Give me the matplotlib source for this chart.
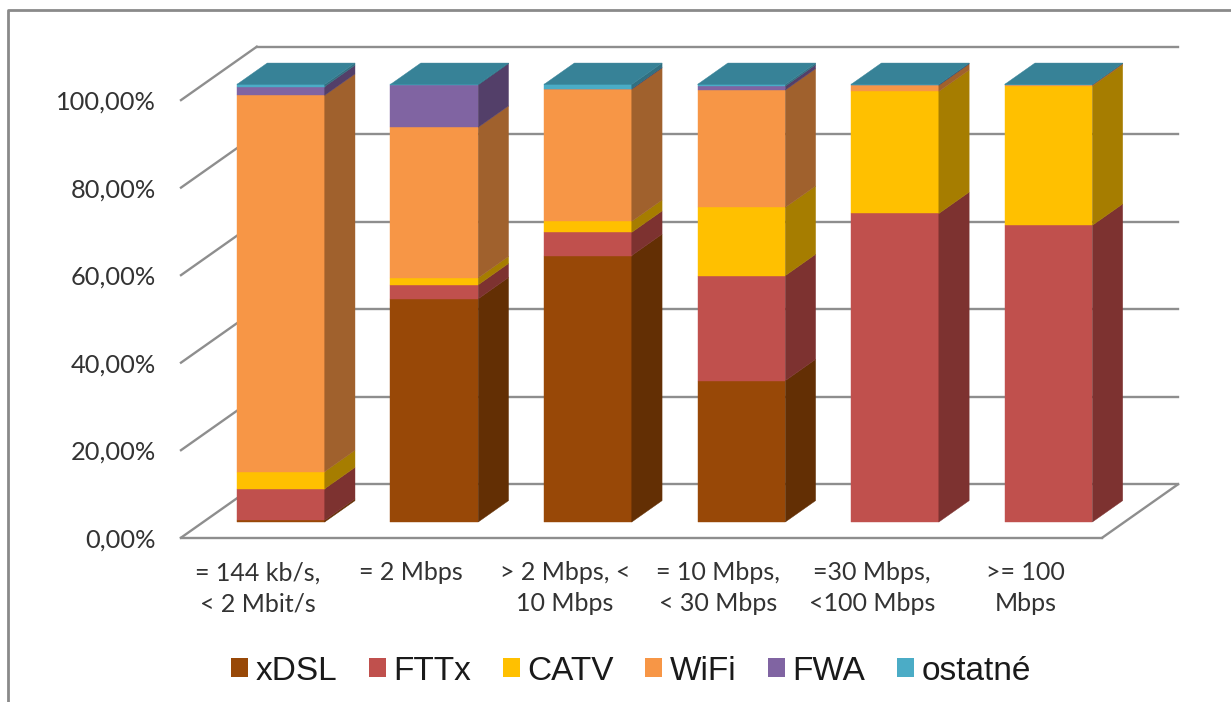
import matplotlib
matplotlib.use('Agg')
import matplotlib.pyplot as plt
from matplotlib.lines import Line2D
from matplotlib.patches import Polygon, Patch

# Data (podiel technologii v pasmach rychlosti, %)
categories = ['= 144 kb/s,\n< 2 Mbit/s', '= 2 Mbps', '> 2 Mbps, <\n10 Mbps',
              '= 10 Mbps,\n< 30 Mbps', '=30 Mbps,\n<100 Mbps', '>= 100\nMbps']
series = ['xDSL', 'FTTx', 'CATV', 'WiFi', 'FWA', 'ostatné']
xdsl = [0.4, 51.0, 60.9, 32.3, 0.0, 0.0]
fttx = [7.2, 3.2, 5.3, 24.0, 70.5, 67.8]
catv = [3.9, 1.6, 2.5, 15.6, 27.9, 31.8]
wifi = [86.0, 34.4, 30.2, 26.8, 1.4, 0.3]
fwa = [2.0, 9.7, 0.1, 0.9, 0.1, 0.0]
ostatne = [0.5, 0.1, 1.0, 0.4, 0.1, 0.1]
values = [xdsl, fttx, catv, wifi, fwa, ostatne]
yticks = [0, 20, 40, 60, 80, 100]
yticklabels = ['0,00%', '20,00%', '40,00%', '60,00%', '80,00%', '100,00%']

front_colors = ['#984807', '#C0504D', '#FFC000', '#F79646', '#8064A2', '#4BACC6']
side_colors = ['#632F04', '#7D3230', '#A67D00', '#A0612D', '#533F69', '#317081']
top_color = '#378297'
grid_color = '#8E8E8E'

W, H = 1231, 702
fig = plt.figure(figsize=(W / 100, H / 100), dpi=100)
ax = fig.add_axes([181 / W, 1 - 537.7 / H, (1178 - 181) / W, (537.7 - 46.7) / H])

# Sikma projekcia: hlbka posuva x aj y
n = len(categories)
depth_x = 76 / 154
depth_y = 53.4 / 4.376
bar_w = 88 / 154
d0, d1 = 0.294, 0.694

ax.set_xlim(0, n + depth_x)
ax.set_ylim(0, 100 + depth_y)
for s in ax.spines.values():
    s.set_visible(False)

# Mriezka na zadnej a bocnej stene
for v in yticks:
    ax.plot([depth_x, n + depth_x], [v + depth_y, v + depth_y], color=grid_color, lw=1.7, zorder=1, clip_on=False)
    ax.plot([0, depth_x], [v, v + depth_y], color=grid_color, lw=1.7, zorder=1, clip_on=False)
ax.plot([0, n], [0, 0], color=grid_color, lw=1.7, zorder=1, clip_on=False)
ax.plot([n, n + depth_x], [0, depth_y], color=grid_color, lw=1.7, zorder=1, clip_on=False)

# Stlpce
for i in range(n):
    x0 = i + 0.505 - bar_w / 2 + d0 * depth_x
    x1 = x0 + bar_w
    dx = (d1 - d0) * depth_x
    base_y = d0 * depth_y
    dy = (d1 - d0) * depth_y
    bottom = 0
    z = 3 + i
    for k in range(len(series)):
        v = values[k][i]
        if v > 0:
            ax.bar(x0, v, bar_w, bottom=base_y + bottom, align='edge', color=front_colors[k],
                   edgecolor=front_colors[k], linewidth=0.3, zorder=z)
            ax.add_patch(Polygon([(x1, base_y + bottom), (x1 + dx, base_y + bottom + dy),
                                  (x1 + dx, base_y + bottom + v + dy), (x1, base_y + bottom + v)],
                                 closed=True, facecolor=side_colors[k], edgecolor=side_colors[k],
                                 linewidth=0.3, zorder=z))
        bottom += v
    ax.add_patch(Polygon([(x0, base_y + bottom), (x1, base_y + bottom),
                          (x1 + dx, base_y + bottom + dy), (x0 + dx, base_y + bottom + dy)],
                         closed=True, facecolor=top_color, edgecolor=top_color, linewidth=0.3, zorder=z))

# Osi
ax.set_yticks(yticks)
ax.set_yticklabels(yticklabels, fontsize=18.3, family='Lato', color='#333333')
ax.set_xticks([i + 0.5 for i in range(n)])
ax.set_xticklabels(categories, fontsize=18, family='Lato', color='#333333', linespacing=1.43)
ax.tick_params(axis='both', length=0)
ax.tick_params(axis='y', pad=18)
ax.tick_params(axis='x', pad=17)

# Legenda
handles = [Patch(facecolor=c, edgecolor='none', label=s) for c, s in zip(front_colors, series)]
fig.legend(handles=handles, loc='center', bbox_to_anchor=(631 / W, 1 - 671 / H), ncols=6, frameon=False,
           prop={'family': 'Liberation Sans', 'size': 24}, handlelength=0.51, handleheight=0.51,
           handletextpad=0.24, columnspacing=0.93, labelcolor='#1a1a1a')

# Ram obrazku
frame = '#8A8A8A'
fig.add_artist(Line2D([8 / W, 8 / W, 1], [0, 1 - 9.5 / H, 1 - 9.5 / H], color=frame, lw=2))

fig.savefig('out.png', dpi=100)
